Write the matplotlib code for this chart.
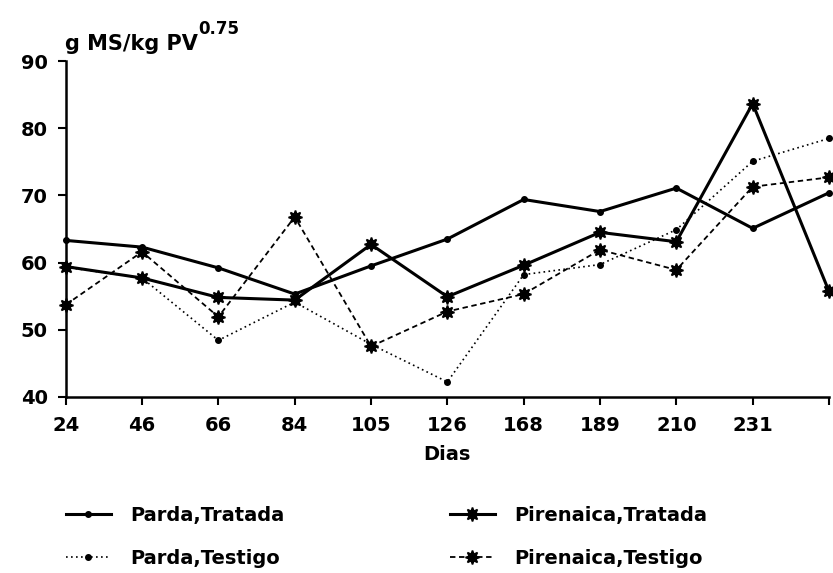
import numpy as np
import matplotlib
matplotlib.use('Agg')
import matplotlib.pyplot as plt

# Consumo por dia de muestreo (g MS/kg PV^0.75)
dias = ['24', '46', '66', '84', '105', '126', '168', '189', '210', '231', '']
parda_tratada = [63.3, 62.3, 59.2, 55.3, 59.5, 63.5, 69.4, 67.6, 71.1, 65.1, 70.4]
pirenaica_tratada = [59.4, 57.7, 54.8, 54.4, 62.7, 54.9, 59.6, 64.5, 63.1, 83.7, 55.7]
parda_testigo = [59.3, 57.7, 48.4, 54.1, 47.8, 42.2, 58.2, 59.7, 64.9, 75.1, 78.5]
pirenaica_testigo = [53.7, 61.6, 51.9, 66.8, 47.5, 52.7, 55.3, 61.9, 58.9, 71.3, 72.7]

plt.rcParams['font.family'] = 'DejaVu Sans'
plt.rcParams['font.weight'] = 'bold'

fig = plt.figure(figsize=(8.33, 5.73), dpi=100)
ax = fig.add_axes([0.0789, 0.3077, 0.9163, 0.5853])

x = np.arange(len(dias))
estrella = (8, 1, 0)

l1, = ax.plot(x, parda_tratada, '-', color='black', lw=2.2,
              marker='o', ms=4, clip_on=False, label='Parda,Tratada')
l2, = ax.plot(x, parda_testigo, color='black', lw=1.2, ls=(0, (1, 2)),
              marker='o', ms=4, clip_on=False, label='Parda,Testigo')
l3, = ax.plot(x, pirenaica_tratada, '-', color='black', lw=2.2,
              marker=estrella, ms=10, mew=1.2, clip_on=False,
              label='Pirenaica,Tratada')
l4, = ax.plot(x, pirenaica_testigo, color='black', lw=1.3, ls=(0, (3, 2)),
              marker=estrella, ms=10, mew=1.2, clip_on=False,
              label='Pirenaica,Testigo')

ax.set_xlim(0, len(dias) - 1)
ax.set_ylim(40, 90)
ax.set_xticks(x)
ax.set_xticklabels(dias)
ax.set_yticks([40, 50, 60, 70, 80, 90])

for s in ['top', 'right']:
    ax.spines[s].set_visible(False)
for s in ['left', 'bottom']:
    ax.spines[s].set_linewidth(1.8)

ax.tick_params(axis='both', direction='out', length=6, width=1.5,
               labelsize=14)
ax.tick_params(axis='y', pad=7)
ax.tick_params(axis='x', pad=8)

ax.set_xlabel('Dias', fontsize=14, fontweight='bold', labelpad=7)

# Etiqueta del eje Y arriba a la izquierda, con exponente
t = fig.text(65 / 833, 1 - 50 / 573, 'g MS/kg PV', fontsize=15,
             fontweight='bold', va='baseline', ha='left')
ax.annotate('0.75', xy=(1.0, 0.8), xycoords=t, fontsize=12,
            fontweight='bold', ha='left', va='bottom', annotation_clip=False)

# Leyenda en dos columnas
kw = dict(frameon=False, fontsize=14, handlelength=2.3, handletextpad=1.0,
          labelspacing=1.25, borderpad=0, borderaxespad=0, loc='center left')
fig.legend(handles=[l1, l2], bbox_to_anchor=(66 / 833, 1 - 537 / 573), **kw)
fig.legend(handles=[l3, l4], bbox_to_anchor=(450 / 833, 1 - 537 / 573), **kw)

fig.savefig('out.png', dpi=100)
